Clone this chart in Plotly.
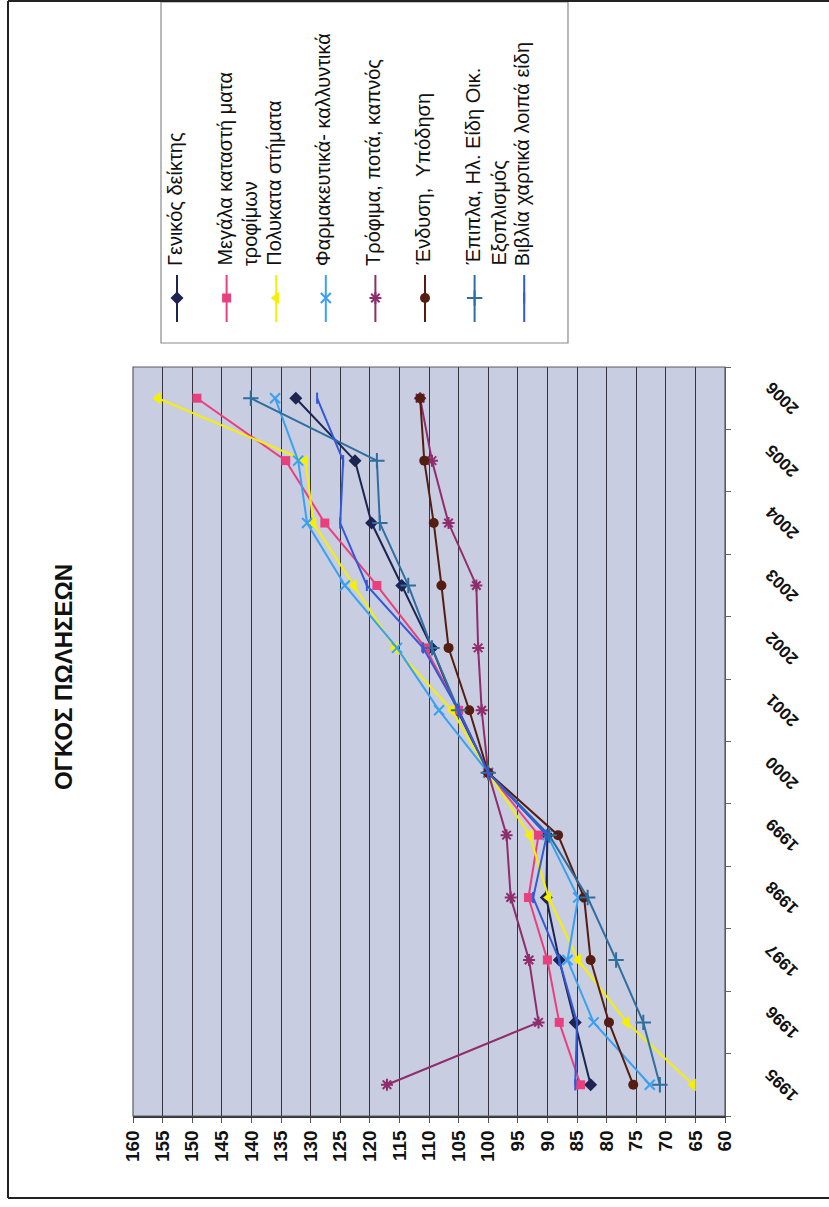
import plotly.graph_objects as go

W, H = 829, 1207

# ---- data -------------------------------------------------------------
years = ["1995", "1996", "1997", "1998", "1999", "2000",
         "2001", "2002", "2003", "2004", "2005", "2006"]

genikos_deiktis = [82.7, 85.3, 88.0, 90.2, 90.0, 100, 105.2, 109.5, 114.6, 119.7, 122.5, 132.5]
megala_trofimon = [84.4, 88.0, 90.0, 93.2, 91.5, 100, 105.0, 110.6, 118.8, 127.6, 134.2, 149.2]
polykatastimata = [65.4, 76.6, 84.8, 89.8, 93.0, 100, 106.1, 115.8, 122.7, 129.5, 130.9, 155.8]
farmakeftika = [72.7, 82.2, 86.6, 84.8, 90.0, 100, 108.3, 115.4, 124.2, 130.6, 132.1, 136.0]
trofima_pota = [117.1, 91.5, 93.1, 96.2, 96.9, 100, 101.1, 101.7, 102.0, 106.7, 109.5, 111.5]
endysi_ypodisi = [75.5, 79.6, 82.7, 83.8, 88.2, 100, 103.2, 106.7, 107.9, 109.2, 110.8, 111.5]
epipla_ilektrika = [71.0, 73.8, 78.4, 83.2, 89.7, 100, 105.0, 109.5, 113.5, 118.3, 118.8, 140.1]
vivlia_xartika = [85.3, 85.0, 88.0, 92.4, 90.1, 100, 105.0, 111.0, 120.5, 125.0, 124.5, 128.9]

value_ticks = list(range(60, 161, 5))

title_text = "ΟΓΚΟΣ ΠΩΛΗΣΕΩΝ"

legend_labels = [
    ["Γενικός δείκτης"],
    ["Μεγάλα καταστή ματα", "τροφίμων"],
    ["Πολυκατα στήματα"],
    ["Φαρμακευτικά- καλλυντικά"],
    ["Τρόφιμα, ποτά, καπνός"],
    ["Ένδυση,  Υπόδηση"],
    ["Έπιπλα, Ηλ. Είδη Οικ.", "Εξοπλισμός"],
    ["Βιβλία χαρτικά λοιπά είδη"],
]

# ---- styling ----------------------------------------------------------
series = [
    (genikos_deiktis, "#1c2552", "diamond", 10),
    (megala_trofimon, "#e8407e", "square", 9),
    (polykatastimata, "#f4f000", "triangle-left", 11),
    (farmakeftika, "#3aa0f0", "x-thin-open", 10),
    (trofima_pota, "#8e2c6c", "asterisk-open", 10),
    (endysi_ypodisi, "#551c12", "circle", 10),
    (epipla_ilektrika, "#2f6e9e", "cross-thin-open", 11),
    (vivlia_xartika, "#3358d8", "line-ns-open", 8),
]

FONT = "Liberation Sans, Arial, sans-serif"


def px(x):
    return x / W


def py(y):
    return 1 - y / H


# plot rectangle in pixels
PL, PR, PT, PB = 133, 725, 367, 1116
# legend box in pixels
LL, LR, LT, LB = 161, 568, 2, 343

fig = go.Figure()

for vals, color, symbol, size in series:
    open_sym = symbol.endswith("open")
    fig.add_trace(go.Scatter(
        x=vals, y=years, mode="lines+markers",
        xaxis="x", yaxis="y",
        line=dict(color=color, width=2),
        marker=dict(symbol=symbol, size=size, color=color,
                    line=dict(color=color, width=2 if open_sym else 0)),
        showlegend=False, hoverinfo="skip",
    ))

# legend keys drawn on a helper axis pair whose units are pixels
key_x0, key_dx = 177, 49.6
for i, (vals, color, symbol, size) in enumerate(series):
    cx = key_x0 + key_dx * i
    open_sym = symbol.endswith("open")
    fig.add_trace(go.Scatter(
        x=[cx, cx], y=[275, 322], mode="lines",
        xaxis="x2", yaxis="y2",
        line=dict(color=color, width=2),
        showlegend=False, hoverinfo="skip",
    ))
    fig.add_trace(go.Scatter(
        x=[cx], y=[298], mode="markers",
        xaxis="x2", yaxis="y2",
        marker=dict(symbol=symbol, size=size, color=color,
                    line=dict(color=color, width=2 if open_sym else 0)),
        showlegend=False, hoverinfo="skip",
    ))

annotations = []
for i, lines in enumerate(legend_labels):
    cx = key_x0 + key_dx * i - 2
    for j, txt in enumerate(lines):
        annotations.append(dict(
            x=px(cx + 26 * j), y=py(268), xref="paper", yref="paper",
            text=txt, textangle=-90, showarrow=False,
            xanchor="center", yanchor="bottom",
            font=dict(family=FONT, size=20, color="#111111"),
        ))

# year labels beside the right-hand category axis (category index positions)
for idx, yr in enumerate(years):
    annotations.append(dict(
        x=px(782), y=idx, xref="paper", yref="y",
        text=yr, textangle=-135, showarrow=False,
        xanchor="center", yanchor="middle",
        font=dict(family=FONT, size=17, color="#111111", weight="bold"),
    ))

annotations.append(dict(
    x=px(63), y=py(677), xref="paper", yref="paper",
    text=title_text, textangle=-90, showarrow=False,
    xanchor="center", yanchor="middle",
    font=dict(family=FONT, size=24, color="#111111", weight="bold"),
))

shapes = [
    # plot area fill
    dict(type="rect", xref="x domain", yref="y domain", x0=0, x1=1, y0=0, y1=1,
         fillcolor="#c9cde2", line=dict(width=0), layer="below"),
    # plot area border
    dict(type="rect", xref="paper", yref="paper",
         x0=px(PL), x1=px(PR), y0=py(PB), y1=py(PT),
         line=dict(color="#5a5a66", width=1.2), layer="above"),
    # legend box
    dict(type="rect", xref="paper", yref="paper",
         x0=px(LL), x1=px(LR), y0=py(LB), y1=py(LT),
         fillcolor="white", line=dict(color="#8a8a8a", width=1.2), layer="below"),
    # outer frame
    dict(type="line", xref="paper", yref="paper",
         x0=px(8), x1=px(8), y0=py(1), y1=py(1198), line=dict(color="#222", width=2)),
    dict(type="line", xref="paper", yref="paper",
         x0=px(8), x1=1.01, y0=py(1198), y1=py(1198), line=dict(color="#222", width=2)),
    dict(type="line", xref="paper", yref="paper",
         x0=px(8), x1=1.01, y0=py(1), y1=py(1), line=dict(color="#222", width=2)),
]

fig.update_layout(
    width=W, height=H,
    margin=dict(l=0, r=0, t=0, b=0, pad=0),
    paper_bgcolor="white", plot_bgcolor="rgba(0,0,0,0)",
    font=dict(family=FONT, color="#111111"),
    xaxis=dict(
        domain=[px(PL), px(PR)], anchor="y",
        range=[160, 60], tickmode="array", tickvals=value_ticks,
        ticktext=[str(v) for v in value_ticks],
        showgrid=True, gridcolor="#34343e", gridwidth=1.4,
        zeroline=False, showline=True, linecolor="#333333", linewidth=1.5,
        ticks="outside", ticklen=5, tickcolor="#555555",
        tickangle=-90, automargin=False,
        tickfont=dict(family=FONT, size=19, color="#111111", weight="bold"),
        fixedrange=True,
    ),
    yaxis=dict(
        domain=[py(PB), py(PT)], anchor="x", side="right",
        type="category", categoryorder="array", categoryarray=years,
        range=[-0.5, len(years) - 0.5],
        tickson="boundaries", ticks="outside", ticklen=5, tickcolor="#666666",
        showgrid=False, zeroline=False, showline=True, linecolor="#555555",
        showticklabels=False, automargin=False,
        fixedrange=True,
    ),
    xaxis2=dict(domain=[px(LL), px(LR)], anchor="y2", range=[LL, LR],
                visible=False, fixedrange=True),
    yaxis2=dict(domain=[py(LB), py(LT)], anchor="x2", range=[LB, LT],
                visible=False, fixedrange=True),
    annotations=annotations,
    shapes=shapes,
)

fig.write_html("out.html")
